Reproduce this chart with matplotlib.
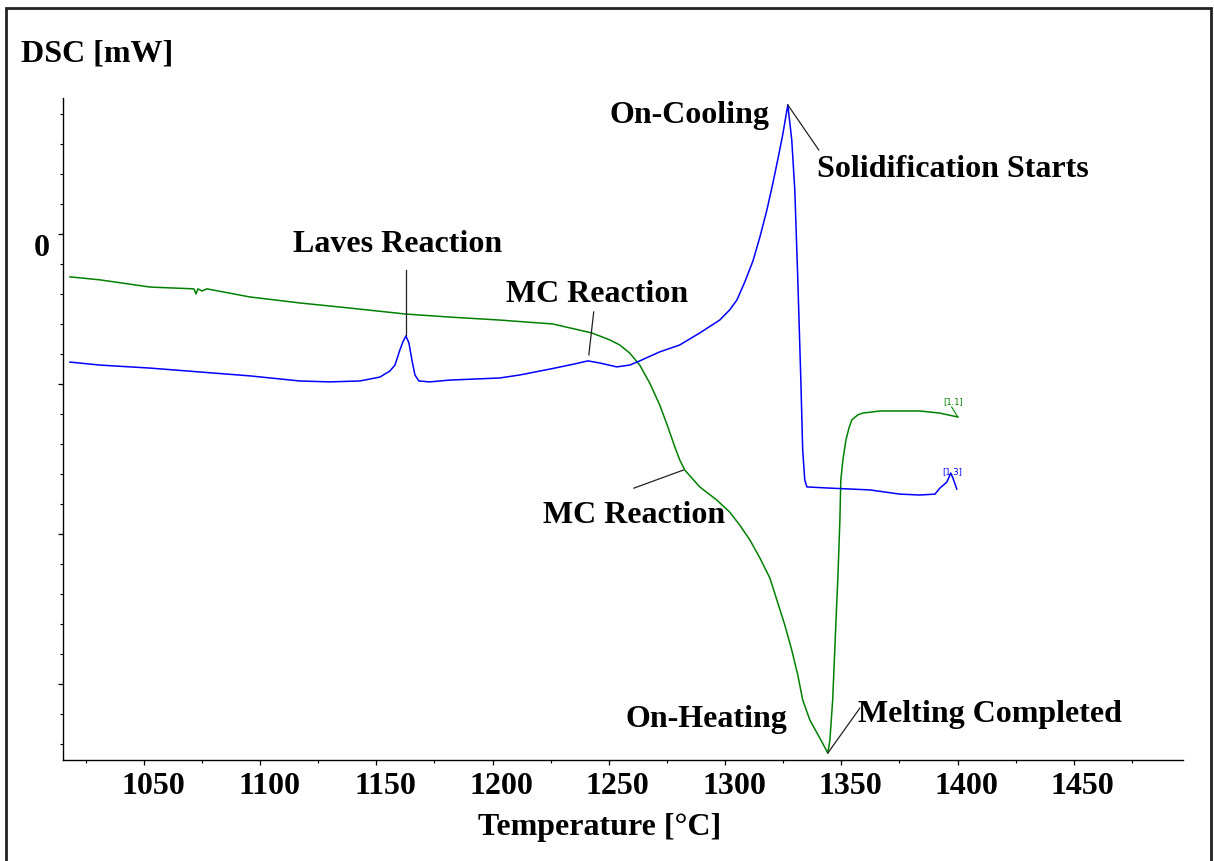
"""DSC trace: on-heating vs on-cooling with reaction labels."""

import matplotlib

matplotlib.use("Agg")
import matplotlib.pyplot as plt
from matplotlib.patches import Rectangle
from matplotlib.transforms import ScaledTranslation

# on-heating trace (green), temperature in deg C, DSC signal in arbitrary mW units
heat_temp = [1018.2, 1031.1, 1052.6, 1071.5, 1072.4, 1073.2, 1075.0, 1077.1, 1095.6,
             1117.1, 1138.6, 1162.7, 1181.6, 1203.1, 1225.9, 1242.7, 1250.4, 1254.7,
             1259.0, 1263.3, 1267.6, 1271.9, 1275.4, 1278.4, 1280.5, 1282.7, 1289.1,
             1296.5, 1302.0, 1306.3, 1310.7, 1315.0, 1319.3, 1322.3, 1325.7, 1328.7,
             1331.3, 1333.4, 1336.5, 1341.7, 1344.2, 1345.1, 1346.3, 1347.2, 1348.1,
             1348.5, 1349.4, 1349.8, 1350.7, 1352.0, 1353.3, 1354.5, 1357.1, 1359.2,
             1366.6, 1375.2, 1383.8, 1392.4, 1400.1]
heat_dsc = [-1.43, -1.53, -1.77, -1.83, -2.00, -1.83, -1.90, -1.83, -2.10,
            -2.30, -2.47, -2.67, -2.77, -2.87, -3.00, -3.30, -3.53, -3.70,
            -3.97, -4.37, -4.97, -5.70, -6.43, -7.10, -7.53, -7.87, -8.43,
            -8.87, -9.27, -9.70, -10.20, -10.80, -11.47, -12.20, -13.03, -13.87,
            -14.70, -15.53, -16.20, -16.93, -17.30, -16.87, -15.53, -13.87, -12.20,
            -11.53, -9.53, -8.20, -7.53, -6.87, -6.47, -6.20, -6.03, -5.97,
            -5.90, -5.90, -5.90, -5.97, -6.10]

# on-cooling trace (blue)
cool_temp = [1018.2, 1031.1, 1052.6, 1074.1, 1095.6, 1117.1, 1130.0, 1142.9, 1151.5,
             1155.8, 1158.0, 1160.1, 1161.4, 1162.7, 1164.0, 1165.3, 1166.6, 1168.3,
             1173.0, 1181.6, 1203.1, 1211.7, 1226.8, 1235.4, 1241.0, 1246.1, 1253.4,
             1259.0, 1263.3, 1271.9, 1280.5, 1289.1, 1297.7, 1302.0, 1305.1, 1308.5,
             1312.0, 1315.0, 1318.0, 1320.6, 1323.0, 1324.8, 1327.0, 1328.7, 1330.0,
             1331.3, 1332.6, 1333.4, 1334.3, 1335.2, 1345.1, 1362.3, 1375.2, 1383.8,
             1390.3, 1392.4, 1395.4, 1397.1, 1398.0, 1399.7]
cool_dsc = [-4.27, -4.37, -4.47, -4.60, -4.73, -4.90, -4.93, -4.90, -4.77,
            -4.57, -4.37, -3.87, -3.60, -3.40, -3.63, -4.20, -4.70, -4.90,
            -4.93, -4.87, -4.80, -4.70, -4.47, -4.33, -4.23, -4.30, -4.43,
            -4.37, -4.23, -3.93, -3.70, -3.30, -2.87, -2.53, -2.20, -1.60,
            -0.90, -0.10, 0.80, 1.70, 2.60, 3.30, 4.30, 3.13, 1.47,
            -1.53, -4.87, -7.20, -8.20, -8.43, -8.47, -8.53, -8.67, -8.70,
            -8.67, -8.47, -8.27, -7.97, -8.13, -8.50]

# annotation texts and their baseline positions
label_text = ["Laves Reaction", "MC Reaction", "MC Reaction", "On-Cooling",
              "Solidification Starts", "On-Heating", "Melting Completed"]
label_pos = [(1159.2, -0.60), (1244.8, -2.27), (1260.8, -9.63), (1319.3, 3.70),
             (1339.5, 1.90), (1326.6, -16.43), (1357.1, -16.27)]
label_ha = ["center", "center", "center", "right", "left", "right", "left"]

# leader lines from labels to features
leaders = [
    ((1162.7, -1.20), (1162.7, -3.37)),
    ((1243.5, -2.60), (1241.4, -4.03)),
    ((1260.8, -8.47), (1282.0, -7.87)),
    ((1327.0, 4.30), (1340.3, 2.80)),
    ((1344.2, -17.30), (1358.0, -15.80)),
]

SERIF = ["Liberation Serif", "DejaVu Serif"]
FS = 23

fig = plt.figure(figsize=(12.14, 8.61), dpi=100)
ax = fig.add_axes([63 / 1214, 101 / 861, 1120 / 1214, 662 / 861])

ax.plot(heat_temp, heat_dsc, color="#008000", lw=1.1)
ax.plot(cool_temp, cool_dsc, color="#0000ff", lw=1.1)

for (x0, y0), (x1, y1) in leaders:
    ax.plot([x0, x1], [y0, y1], color="#222222", lw=0.9)
ax.plot([1397.5, 1400.1], [-5.77, -6.10], color="#008000", lw=0.8)

for text, (tx, ty), ha in zip(label_text, label_pos, label_ha):
    ax.text(tx, ty, text, ha=ha, va="baseline", fontsize=FS,
            fontweight="bold", family=SERIF)

ax.text(1397.9, -5.60, "[1.1]", color="#008000", fontsize=6, ha="center",
        va="center", family="DejaVu Sans")
ax.text(1397.9, -7.93, "[1.3]", color="#0000ff", fontsize=6, ha="center",
        va="center", family="DejaVu Sans")

ax.set_xlim(1015.2, 1497.0)
ax.set_ylim(-17.53, 4.53)

ax.set_xticks(range(1050, 1451, 50))
ax.set_xticks(range(1025, 1476, 50), minor=True)
ax.set_yticks([0, -5, -10, -15])
ax.set_yticklabels(["0", "", "", ""])
ax.set_yticks(range(-17, 5), minor=True)

ax.tick_params(axis="both", which="major", direction="out", length=3.5, width=0.9, pad=5)
ax.tick_params(axis="both", which="minor", direction="out", length=2, width=0.8)
ax.tick_params(axis="y", which="major", pad=6)

for lab in ax.get_xticklabels() + ax.get_yticklabels():
    lab.set_fontsize(FS)
    lab.set_fontweight("bold")
    lab.set_family(SERIF)
for lab in ax.get_xticklabels():
    lab.set_transform(lab.get_transform() + ScaledTranslation(0.09, 0, fig.dpi_scale_trans))
for lab in ax.get_yticklabels():
    lab.set_transform(lab.get_transform() + ScaledTranslation(0, -0.11, fig.dpi_scale_trans))

for side in ("top", "right"):
    ax.spines[side].set_visible(False)
for side in ("left", "bottom"):
    ax.spines[side].set_linewidth(1.0)

fig.text(21 / 1214, 1 - 61 / 861, "DSC [mW]", ha="left", va="baseline",
         fontsize=FS, fontweight="bold", family=SERIF)
fig.text(600 / 1214, 1 - 835 / 861, "Temperature [°C]", ha="center", va="baseline",
         fontsize=FS, fontweight="bold", family=SERIF)

fig.patches.append(Rectangle((6 / 1214, -0.02), 1205 / 1214, 1 - 8 / 861 + 0.02,
                             transform=fig.transFigure, fill=False, lw=2,
                             edgecolor="#222222"))

fig.savefig("out.png", dpi=100)
